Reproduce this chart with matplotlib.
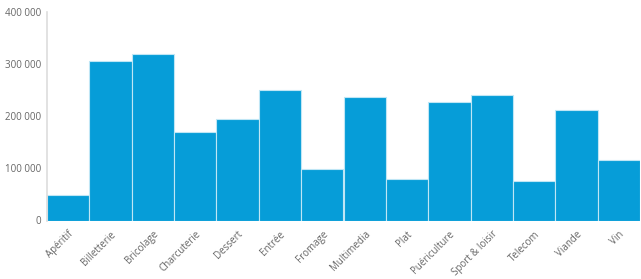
import matplotlib
matplotlib.use("Agg")
import matplotlib.pyplot as plt
from matplotlib.ticker import FuncFormatter

categories = ["Apéritif", "Billetterie", "Bricolage", "Charcuterie", "Dessert", "Entrée",
              "Fromage", "Multimedia", "Plat", "Puériculture", "Sport & loisir", "Telecom",
              "Viande", "Vin"]
values = [50000, 306000, 320000, 170000, 196000, 250000, 99000, 237000, 80000,
          228000, 241000, 76000, 213000, 117000]
yticks = [0, 100000, 200000, 300000, 400000]

plt.rcParams['font.family'] = ['Open Sans', 'DejaVu Sans']
W, H = 641, 279
fig = plt.figure(figsize=(W/100, H/100), dpi=100)
ax = fig.add_axes([47/W, 1-220.5/H, (640-47)/W, (220.5-12.5)/H])

x = range(len(categories))
ax.bar(x, values, width=1.0, color='#069dd8', edgecolor='#bfe6f5', linewidth=0.8)
ax.set_xlim(-0.5, len(categories)-0.5)
ax.set_ylim(0, 400000)
ax.set_yticks(yticks)
ax.yaxis.set_major_formatter(FuncFormatter(lambda v, p: f"{int(v):,}".replace(",", " ")))
ax.set_xticks(list(x))
ax.set_xticklabels(categories, rotation=45, ha='right', rotation_mode='anchor')
ax.tick_params(axis='both', length=0, labelsize=7, colors='#666666')
ax.tick_params(axis='y', pad=4)
ax.tick_params(axis='x', pad=6)
for s in ['top', 'right', 'bottom']:
    ax.spines[s].set_visible(False)
ax.spines['left'].set_color('#dddddd')
ax.spines['left'].set_linewidth(1.2)

fig.savefig("out.png", dpi=100)
